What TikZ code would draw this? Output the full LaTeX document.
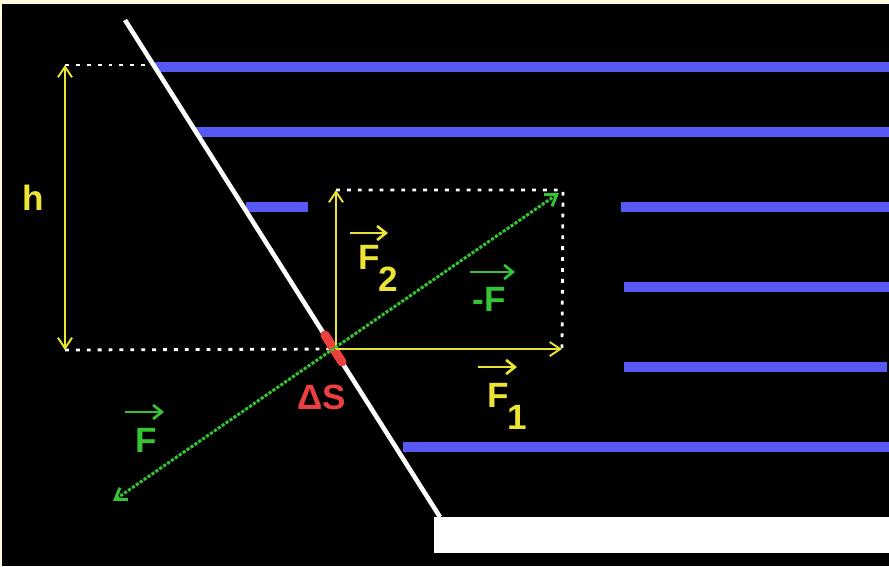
\documentclass[tikz,border=0pt]{standalone}
\usepackage{fontspec}
\setmainfont{Liberation Sans}
\usetikzlibrary{arrows.meta}
\definecolor{slabblue}{RGB}{88,88,245}
\definecolor{forceyellow}{RGB}{236,228,52}
\definecolor{forcegreen}{RGB}{52,196,52}
\definecolor{areared}{RGB}{236,64,64}
\definecolor{edgecream}{RGB}{255,249,222}
\tikzset{
  layer/.style={slabblue,line width=0.2cm},
  guide/.style={white,line width=1.6pt,dash pattern=on 2.2pt off 4pt},
  force/.style={forceyellow,line width=1.1pt,{Straight Barb[length=6pt,width=8pt]}-{Straight Barb[length=6pt,width=8pt]}},
  lbl/.style={font=\bfseries\fontsize{20}{20}\selectfont,inner sep=0pt},
  vecbar/.style={line width=1.5pt,-{Straight Barb[length=5pt,width=8pt]}}
}
\newcommand{\subidx}[1]{\kern-1pt\raisebox{-0.62em}{#1}}
\begin{document}
\begin{tikzpicture}[x=0.02cm,y=-0.02cm]
    \useasboundingbox (0,0) rectangle (889,566);
    \fill[edgecream] (0,0) rectangle (889,566);
    \fill[black] (2,4) rectangle (889,566);
    % wall and floor
    \coordinate (top) at (125,20);\coordinate (foot) at (440,517);
    \fill[white] (434,517) rectangle (889,553);
    % liquid layers
    \draw[layer] (155,67) -- (889,67);
    \draw[layer] (196,132) -- (889,132);
    \draw[layer] (246,207) -- (308,207);\draw[layer] (621,207) -- (889,207);
    \draw[layer] (624,287) -- (889,287);
    \draw[layer] (624,367) -- (887,367);
    \draw[layer] (403,447) -- (889,447);
    \draw[white,line width=2.6pt] (top) -- (foot);
    % construction
    \coordinate (O) at (336,349);\coordinate (hT) at (65,65);\coordinate (hB) at (65,350);
    \coordinate (F1) at (562,349);\coordinate (F2) at (336,190);\coordinate (R) at (563,190);
    \coordinate (mF) at (559,193);\coordinate (pF) at (113,501);
    \draw[guide] (hT) -- (155,65);
    \draw[guide] (hB) -- (O);
    \draw[guide] (F2) -- (R) -- (F1);
    \draw[force] (hT) -- (hB);
    \draw[areared,line width=0.18cm,line cap=round] (325,335) -- (342,362);
    \draw[force,-{Straight Barb[length=6pt,width=8pt]}] (O) -- (F1);
    \draw[force,-{Straight Barb[length=6pt,width=8pt]}] (O) -- (F2);
    \draw[forcegreen,line width=1.7pt,dash pattern=on 1.8pt off 0.9pt,{Straight Barb[length=6pt,width=8pt]}-{Straight Barb[length=6pt,width=8pt]}] (pF) -- (mF);
    % labels
    \node[lbl,forceyellow] (h) at (33,198) {h};
    \node[lbl,forceyellow,anchor=north west] (vF2) at (358,245) {F\subidx{2}};
    \node[lbl,forceyellow,anchor=north west] (vF1) at (487,383) {F\subidx{1}};
    \node[lbl,forcegreen,anchor=north west] (vmF) at (472,287) {-F};
    \node[lbl,forcegreen,anchor=north west] (vF) at (135,428) {F};
    \node[lbl,areared] (dS) at (322,397) {ΔS};
    \draw[vecbar,forceyellow] ([shift={(-8,-12)}]vF2.north west) -- ++(38,0);
    \draw[vecbar,forceyellow] ([shift={(-9,-16)}]vF1.north west) -- ++(39,0);
    \draw[vecbar,forcegreen] ([shift={(-2,-15)}]vmF.north west) -- ++(45,0);
    \draw[vecbar,forcegreen] ([shift={(-10,-16)}]vF.north west) -- ++(39,0);
  \end{tikzpicture}
\end{document}
